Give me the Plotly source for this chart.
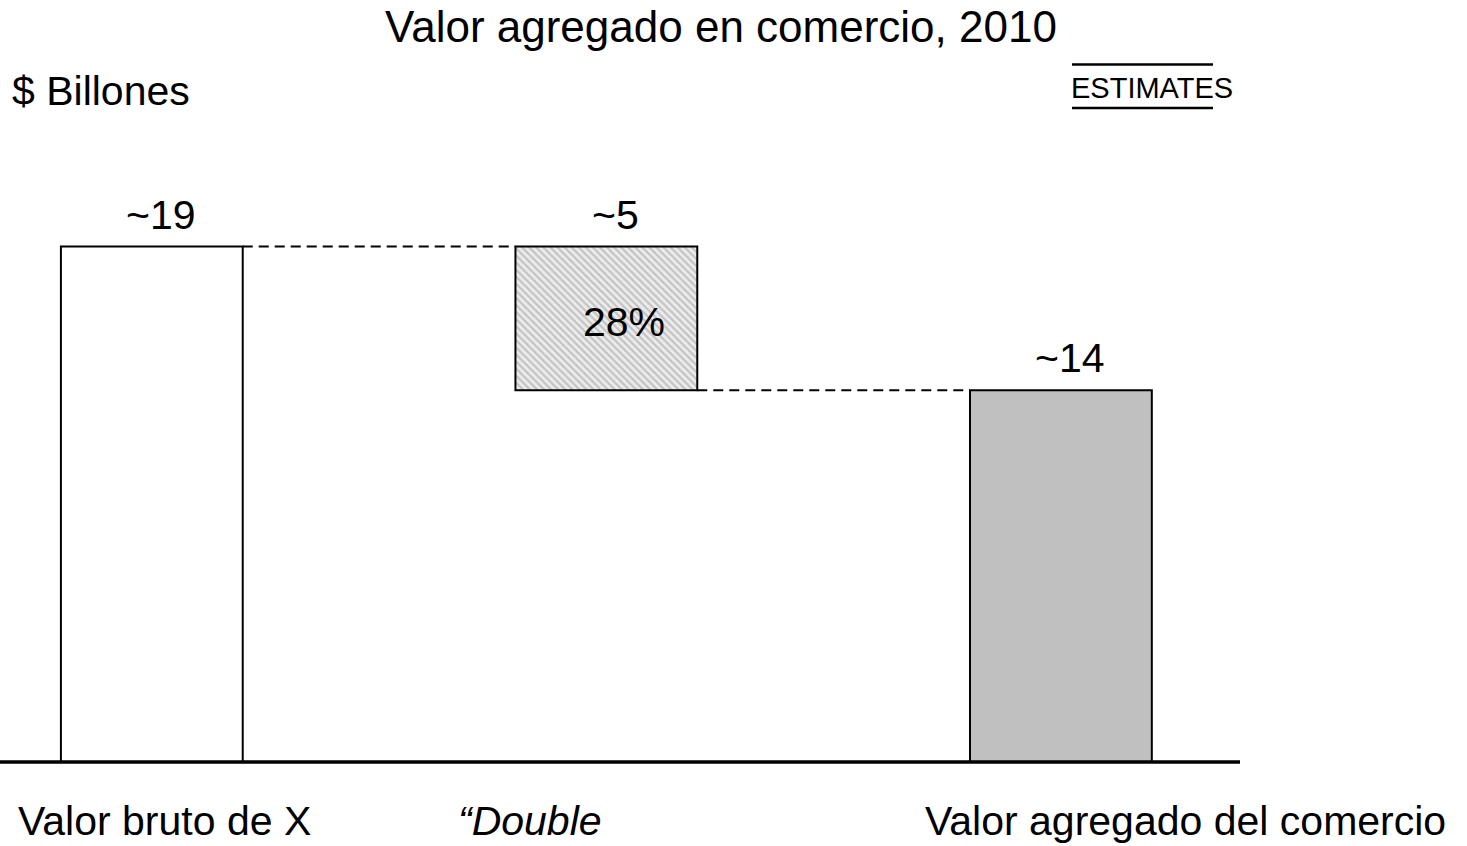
import plotly.graph_objects as go

# ---- data ----
categories = ["Valor bruto de X", "“Double", "Valor agregado del comercio"]
values = [19.0, 5.3, 13.7]
value_labels = ["~19", "~5", "~14"]
share_label = "28%"
title_text = "Valor agregado en comercio, 2010"
unit_text = "$ Billones"
stamp_text = "ESTIMATES"

# ---- derived (waterfall bases) ----
bases = [0.0, values[0] - values[1], 0.0]
tops = [b + v for b, v in zip(bases, values)]
xs = list(range(len(categories)))
bar_w = 0.4

FONT = "Liberation Sans, Arial, sans-serif"

fig = go.Figure()

fills = ["white", "#e6e6e6", "#c0c0c0"]
for i in xs:
    marker = dict(color=fills[i], line=dict(color="black", width=2))
    if i == 1:
        marker["pattern"] = dict(shape="\\", fgcolor="#9a9a9a", bgcolor="#ececec",
                                 size=5, solidity=0.45)
    fig.add_trace(go.Bar(x=[xs[i]], y=[values[i]], base=[bases[i]], width=bar_w,
                         marker=marker, hoverinfo="skip", showlegend=False))

# dashed connectors
dash_line = dict(color="black", width=2, dash="10px,6px")
fig.add_trace(go.Scatter(x=[xs[0] + bar_w / 2, xs[1] - bar_w / 2], y=[tops[0], tops[0]],
                         mode="lines", line=dash_line, hoverinfo="skip", showlegend=False))
fig.add_trace(go.Scatter(x=[xs[1] + bar_w / 2, xs[2] - bar_w / 2], y=[bases[1], bases[1]],
                         mode="lines", line=dash_line, hoverinfo="skip", showlegend=False))

ann = []
# value labels
for i in xs:
    ann.append(dict(x=xs[i], y=tops[i], xref="x", yref="y", text=value_labels[i],
                    showarrow=False, yanchor="bottom", xanchor="center", xshift=9, yshift=7,
                    font=dict(family=FONT, size=41, color="black")))
# share label inside floating bar
ann.append(dict(x=xs[1], y=bases[1] + values[1] / 2, xref="x", yref="y", text=share_label,
                showarrow=False, xanchor="center", yanchor="middle", xshift=18, yshift=-4,
                font=dict(family=FONT, size=41, color="black")))
# category labels
cat_shift = [-136, -150, -138]
for i in xs:
    txt = f"<i>{categories[i]}</i>" if i == 1 else categories[i]
    ann.append(dict(x=xs[i], y=0, xref="x", yref="y", text=txt, showarrow=False,
                    xanchor="left", yanchor="top", xshift=cat_shift[i], yshift=-34,
                    font=dict(family=FONT, size=41, color="black")))
# unit label
ann.append(dict(x=10 / 1240, y=(765 - 91) / 665, xref="paper", yref="paper", text=unit_text,
                showarrow=False, xanchor="left", yanchor="middle",
                font=dict(family=FONT, size=41, color="black")))
# stamp
ann.append(dict(x=1069 / 1240, y=(765 - 88) / 665, xref="paper", yref="paper", text=stamp_text,
                showarrow=False, xanchor="left", yanchor="middle",
                font=dict(family=FONT, size=29, color="black")))

shapes = [
    dict(type="line", xref="paper", yref="paper", x0=1072 / 1240, x1=1213 / 1240,
         y0=(765 - 64.5) / 665, y1=(765 - 64.5) / 665, line=dict(color="black", width=2.5)),
    dict(type="line", xref="paper", yref="paper", x0=1072 / 1240, x1=1213 / 1240,
         y0=(765 - 108) / 665, y1=(765 - 108) / 665, line=dict(color="black", width=2.5)),
]

fig.update_layout(
    width=1467, height=846,
    margin=dict(l=0, r=227, t=100, b=81),
    paper_bgcolor="white", plot_bgcolor="white",
    title=dict(text=title_text, x=721 / 1467, xanchor="center", xref="container",
               y=1 - 27 / 846, yanchor="middle", yref="container",
               font=dict(family=FONT, size=44, color="black")),
    xaxis=dict(range=[-0.334, 2.394], showticklabels=False, showgrid=False, zeroline=False,
               showline=False, ticks=""),
    yaxis=dict(range=[-0.11, 24.4], visible=False, showgrid=False, zeroline=False),
    annotations=ann, shapes=shapes,
    barmode="overlay",
)
# baseline
fig.add_shape(type="line", xref="paper", yref="y", x0=0, x1=1, y0=0, y1=0,
              line=dict(color="black", width=3.5))

fig.write_html("out.html", config={"displayModeBar": False},
               post_script="document.body.style.margin='0';document.body.style.overflow='hidden';")
